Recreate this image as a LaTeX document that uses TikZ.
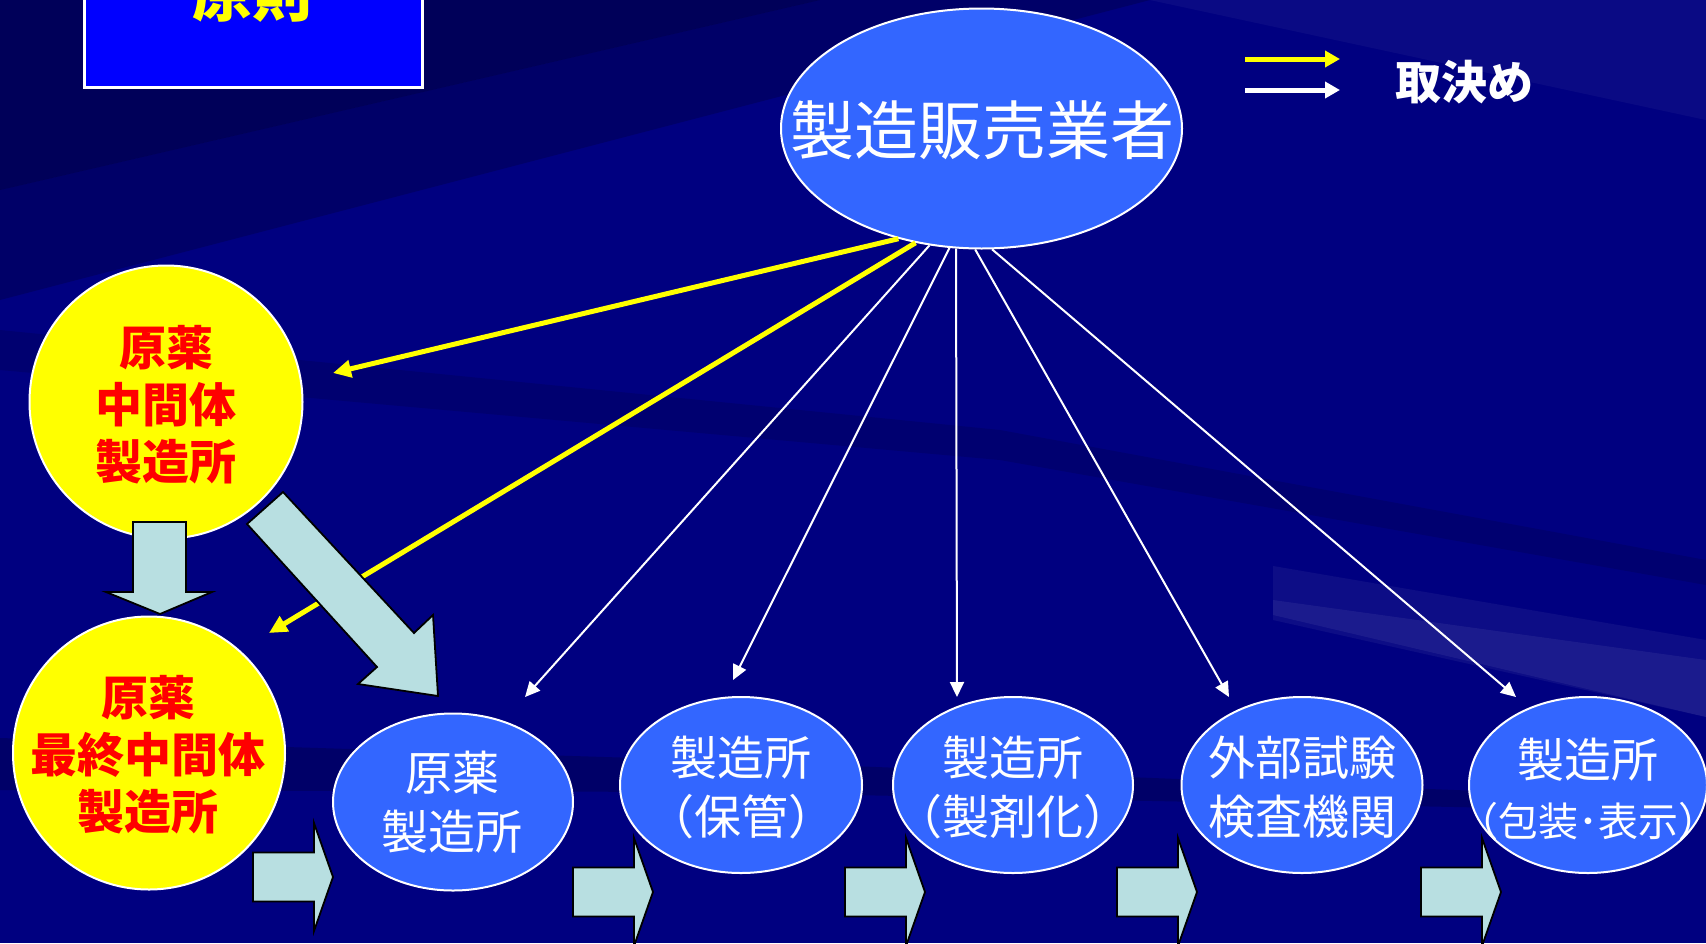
\documentclass[tikz,border=0pt]{standalone}
\usepackage{fontspec}
\newfontfamily\jp{Noto Sans CJK JP}
\usetikzlibrary{shapes.geometric,arrows.meta}
\definecolor{bgnavy}{RGB}{0,0,128}
\definecolor{nodeblue}{RGB}{51,102,255}
\definecolor{boxblue}{RGB}{0,0,255}
\definecolor{blockfill}{RGB}{184,223,225}
\definecolor{ylw}{RGB}{255,255,0}
\definecolor{rd}{RGB}{255,0,0}
\tikzset{
  site/.style={ellipse, draw=white, line width=2pt, fill=nodeblue, inner sep=0pt},
  ycirc/.style={ellipse, draw=white, line width=2pt, fill=ylw, inner sep=0pt},
  wtext/.style={text=white, font=\jp\fontsize{47}{59}\selectfont, align=center, inner sep=0pt},
  rtext/.style={text=rd, font=\jp\bfseries\fontsize{47}{57}\selectfont, align=center, inner sep=0pt},
  warrow/.style={draw=white, line width=2pt, -{Triangle[length=15pt,width=14pt]}},
  yarrow/.style={draw=ylw, line width=5pt, -{Triangle[length=18pt,width=17pt]}},
  legyarrow/.style={line width=5pt, -{Triangle[length=15pt,width=16pt]}},
  blockarrow/.style={fill=blockfill, draw=black, line width=1.8pt, line join=miter},
  rightblock/.pic={\draw[blockarrow] (0,-24.5) -- (61,-24.5) -- (61,-54) -- (80,0) -- (61,54) -- (61,24.5) -- (0,24.5) -- cycle;},
}
\begin{document}
\begin{tikzpicture}[x=1pt,y=-1pt]
\useasboundingbox (0,0) rectangle (1706,943);
\clip (0,0) rectangle (1706,943);
% background
\fill[bgnavy] (0,0) rectangle (1706,943);
\fill[black,opacity=.30] (0,0) -- (820,0) -- (0,190) -- cycle;
\fill[black,opacity=.18] (820,0) -- (1150,0) -- (0,300) -- (0,190) -- cycle;
\fill[black,opacity=.12] (0,330) -- (1000,430) -- (1706,560) -- (1706,585) -- (1000,460) -- (0,370) -- cycle;
\fill[black,opacity=.18] (0,738) -- (700,760) -- (1706,800) -- (1706,812) -- (700,792) -- (0,790) -- cycle;
\fill[white,opacity=.05] (1273,566) -- (1706,640) -- (1706,717) -- (1273,620) -- cycle;
\fill[white,opacity=.06] (1273,600) -- (1706,660) -- (1706,717) -- (1273,615) -- cycle;
\fill[white,opacity=.04] (1150,0) -- (1706,0) -- (1706,120) -- cycle;

% title box
\node[draw=white, line width=3pt, fill=boxblue, minimum width=338pt, minimum height=130pt, inner sep=0pt] (titlebox) at (253,22) {};
\node[text=ylw, font=\jp\bfseries\fontsize{60}{60}\selectfont, inner sep=0pt] (titletext) at (252,-6) {原則};

% legend
\coordinate (lya) at (1245,59);
\coordinate (lyb) at (1340,59);
\coordinate (lwa) at (1245,90);
\coordinate (lwb) at (1340,90);
\draw[legyarrow, draw=ylw, fill=ylw] (lya) -- (lyb);
\draw[legyarrow, draw=white, fill=white] (lwa) -- (lwb);
\node[text=white, font=\jp\bfseries\fontsize{46}{46}\selectfont, inner sep=0pt] (legtext) at (1464,82) {取決め};

% nodes
\node[site, minimum width=401pt, minimum height=240pt] (top) at (981.5,128.5) {};
\node[ycirc, minimum width=273pt, minimum height=273pt] (c1) at (166,402) {};
\node[ycirc, minimum width=272pt, minimum height=273pt] (c2) at (149,753) {};
\node[site, minimum width=240pt, minimum height=177pt] (e1) at (453,802) {};
\node[site, minimum width=242pt, minimum height=176pt] (e2) at (741,785) {};
\node[site, minimum width=240pt, minimum height=176pt] (e3) at (1013,785) {};
\node[site, minimum width=241pt, minimum height=176pt] (e4) at (1302,785) {};
\node[site, minimum width=238pt, minimum height=176pt] (e5) at (1588,785) {};

% texts
\node[wtext, font=\jp\fontsize{64}{64}\selectfont] (ttop) at (982,130) {製造販売業者};
\node[rtext] (t1) at (166,405) {原薬\\中間体\\製造所};
\node[rtext] (t2) at (148,755) {原薬\\最終中間体\\製造所};
\node[wtext] (te1) at (452,802.5) {原薬\\製造所};
\node[wtext] (te2) at (741,787.5) {製造所\\\kern-.5em（保管）\kern-.5em};
\node[wtext] (te3) at (1013,787.5) {製造所\\\kern-.5em（製剤化）\kern-.5em};
\node[wtext] (te4) at (1302,787.5) {外部試験\\検査機関};
\node[wtext] (te5) at (1588,789) {製造所\\{\fontsize{40}{59}\selectfont\kern-.55em（包装･表示）\kern-.55em}};

% connectors
\coordinate (y1e) at (333,373);
\coordinate (y2e) at (269,633);
\coordinate (w1e) at (525,697);
\coordinate (w2e) at (733,680);
\coordinate (w3e) at (957,697);
\coordinate (w4e) at (1229,697);
\coordinate (w5e) at (1516,697);
\draw[yarrow] (top.233.6) -- (y1e);
\draw[yarrow] (top.240.1) -- (y2e);
\draw[warrow] (top.246.6) -- (w1e);
\draw[warrow] (top.255.6) -- (w2e);
\draw[warrow] (top.258.8) -- (w3e);
\draw[warrow] (top.267.2) -- (w4e);
\draw[warrow] (top.275.8) -- (w5e);

% block arrows
\draw[blockarrow] (133,522) -- (186,522) -- (186,592) -- (212,592) -- (160,614) -- (106,592) -- (133,592) -- cycle;
\draw[blockarrow] (283,492) -- (414,633) -- (433,615) -- (438,696) -- (358,684) -- (377,667) -- (247,524) -- cycle;
\pic at (253,877) {rightblock};
\pic at (573,892) {rightblock};
\pic at (845,892) {rightblock};
\pic at (1117,892) {rightblock};
\pic at (1421,892) {rightblock};
\end{tikzpicture}
\end{document}
